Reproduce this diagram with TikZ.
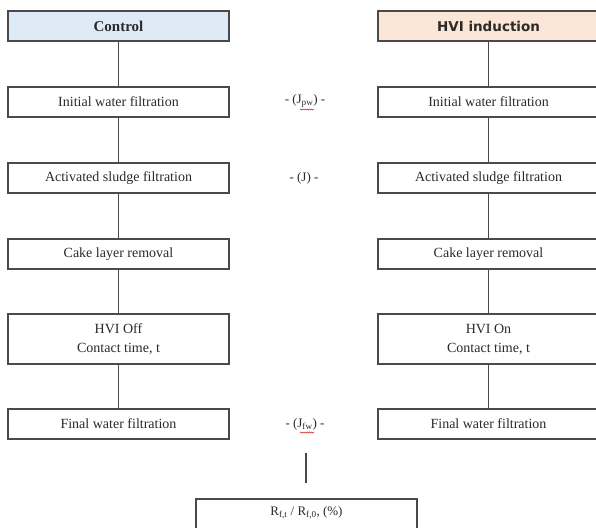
\documentclass[tikz,border=0pt]{standalone}
\usepackage{fontspec}
\setmainfont{Liberation Serif}
\newfontfamily\headsans{DejaVu Sans}
\usetikzlibrary{decorations.pathmorphing}
\definecolor{edgegray}{HTML}{4A4A4A}
\definecolor{txtgray}{HTML}{2A2A2A}
\definecolor{ctrlblue}{HTML}{DEEBF7}
\definecolor{hvipeach}{HTML}{FBE5D6}
\tikzset{
  stepbox/.style={draw=edgegray, line width=1.1pt, fill=white, text=txtgray, minimum width=221pt, minimum height=30pt, inner sep=0pt, align=center, font=\fontsize{14}{17}\selectfont},
  tallbox/.style={stepbox, minimum height=50pt},
  link/.style={draw=edgegray, line width=1.1pt},
  fluxlabel/.style={font=\fontsize{13}{15}\selectfont, text=txtgray, inner sep=1pt},
  squiggle/.style={draw=red!80!black, line width=0.4pt, decorate, decoration={snake, amplitude=0.6pt, segment length=2.2pt}}
}
\begin{document}
\begin{tikzpicture}[x=1pt,y=-1pt]
\useasboundingbox (0,0) rectangle (596,527);
\clip (0,0) rectangle (596,527);
% left column
\node[stepbox, fill=ctrlblue, font=\fontsize{15}{17}\selectfont\bfseries] (c0) at (118.5,26) {Control};
\node[stepbox] (c1) at (118.5,102) {Initial water filtration};
\node[stepbox] (c2) at (118.5,178) {Activated sludge filtration};
\node[stepbox] (c3) at (118.5,254) {Cake layer removal};
\node[tallbox] (c4) at (118.5,339) {HVI Off\\[2pt]Contact time, t};
\node[stepbox] (c5) at (118.5,424) {Final water filtration};
% right column
\node[stepbox, fill=hvipeach, font=\headsans\fontsize{13.5}{15}\selectfont\bfseries] (h0) at (488.5,26) {HVI induction};
\node[stepbox] (h1) at (488.5,102) {Initial water filtration};
\node[stepbox] (h2) at (488.5,178) {Activated sludge filtration};
\node[stepbox] (h3) at (488.5,254) {Cake layer removal};
\node[tallbox] (h4) at (488.5,339) {HVI On\\[2pt]Contact time, t};
\node[stepbox] (h5) at (488.5,424) {Final water filtration};
% connectors
\foreach \a/\b in {c0/c1,c1/c2,c2/c3,c3/c4,c4/c5,h0/h1,h1/h2,h2/h3,h3/h4,h4/h5}
  \draw[link] (\a.south) -- (\b.north);
% flux labels
\node[fluxlabel] (lpw) at (305,101) {- (J\textsubscript{pw}) -};
\node[fluxlabel] (lj) at (304,178) {- (J) -};
\node[fluxlabel] (lfw) at (305,424) {- (J\textsubscript{fw}) -};
\draw[squiggle] (300,109.5) -- (314,109.5);
\draw[squiggle] (300,432.5) -- (314,432.5);
% result
\node[stepbox, minimum height=32pt] (res) at (306.5,515) {};
\node[fluxlabel] (restext) at (306.5,513) {R\textsubscript{f,t} / R\textsubscript{f,0}, (\%)};
\coordinate (ltop) at (306,453);
\coordinate (lbot) at (306,483);
\draw[link] (ltop) -- (lbot);
\end{tikzpicture}
\end{document}
